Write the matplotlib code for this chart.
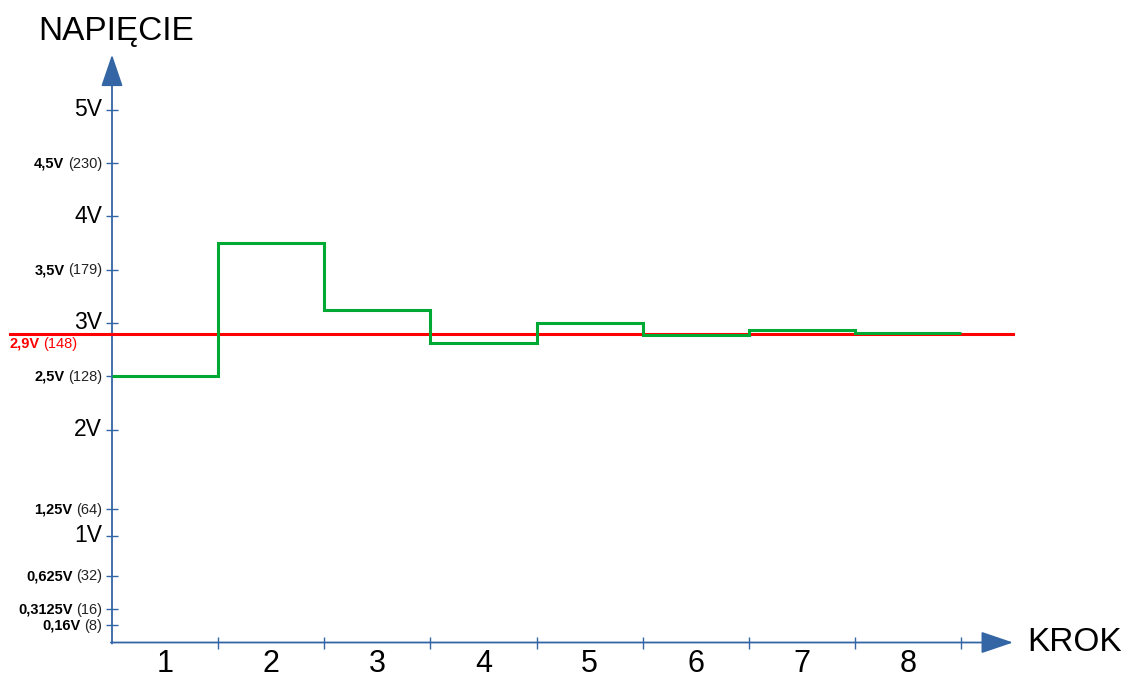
import matplotlib.pyplot as plt

plt.rcParams['font.family'] = ['Liberation Sans', 'DejaVu Sans']

# SAR steps (krok) and the DAC voltage tried at each step
steps = [1, 2, 3, 4, 5, 6, 7, 8]
voltages = [2.5, 3.75, 3.125, 2.8125, 3.0, 2.89, 2.93, 2.91]
vin = 2.9
vin_label = ('2,9V', '(148)')

major_ticks = [1, 2, 3, 4, 5]
major_labels = ['1V', '2V', '3V', '4V', '5V']
minor_ticks = [4.5, 3.5, 2.5, 1.25, 0.625, 0.3125, 0.16]
minor_bold = ['4,5V', '3,5V', '2,5V', '1,25V', '0,625V', '0,3125V', '0,16V']
minor_code = ['(230)', '(179)', '(128)', '(64)', '(32)', '(16)', '(8)']

blue = '#3465a4'
green = '#00a933'
red = '#ff0000'

fig = plt.figure(figsize=(11.27, 6.77), dpi=100)
ax = fig.add_axes([0, 0, 1, 1])
pxx = 106.125   # px per step
pxy = 106.5     # px per volt
ax.set_xlim(-112 / pxx, (1127 - 112) / pxx)
ax.set_ylim(-(677 - 642.5) / pxy, 642.5 / pxy)
ax.axis('off')
r = fig.canvas.get_renderer()

# axes with arrows
ax.annotate('', xy=(0, 5.52), xytext=(0, -0.01),
            arrowprops=dict(arrowstyle='-|>,head_length=2.0,head_width=0.68',
                            mutation_scale=10, color=blue, lw=1.3, shrinkA=0, shrinkB=0))
ax.annotate('', xy=(8.49, 0), xytext=(-0.01, 0),
            arrowprops=dict(arrowstyle='-|>,head_length=2.0,head_width=0.68',
                            mutation_scale=10, color=blue, lw=1.3, shrinkA=0, shrinkB=0))

# tick marks crossing the axes
allticks = major_ticks + minor_ticks
ax.plot([0] * len(allticks), allticks, ls='none', marker='_', ms=9, mew=1, color=blue)
ax.plot(steps, [0] * len(steps), ls='none', marker='|', ms=9, mew=1, color=blue)

# data
edges = [s - 1 for s in steps] + [max(steps)]
ax.plot([-0.96, 8.49], [vin, vin], color=red, lw=2.2, zorder=3)
ax.stairs(voltages, edges, baseline=None, color=green, lw=2.2, zorder=4)

# labels
off = -10 / pxx
fs = 10.5
base = -4.5 / pxy   # baseline shift so the text is centred on the tick
gap = 3.5 / pxx
for v, lab in zip(major_ticks, major_labels):
    ax.text(off, v, lab, ha='right', va='center', fontsize=16.5)
for v, b, c in zip(minor_ticks, minor_bold, minor_code):
    t = ax.text(off, v + base, c, ha='right', va='baseline', fontsize=fs, color='#222222')
    x0 = ax.transData.inverted().transform(t.get_window_extent(r).p0)[0]
    ax.text(x0 - gap, v + base, b, ha='right', va='baseline', fontsize=fs, fontweight='bold')

t = ax.text(-102 / pxx, vin - 0.09 + base, vin_label[0], ha='left', va='baseline',
            fontsize=fs, fontweight='bold', color=red)
x1 = ax.transData.inverted().transform(t.get_window_extent(r).p1)[0]
ax.text(x1 + gap, vin - 0.09 + base, vin_label[1], ha='left', va='baseline',
        fontsize=fs, color=red)

for s in steps:
    ax.text(s - 0.5, -0.2, str(s), ha='center', va='center', fontsize=22)

ax.text(-74 / pxx, 5.74, 'NAPIĘCIE', ha='left', va='center', fontsize=24)
ax.text(8.62, 0, 'KROK', ha='left', va='center', fontsize=24)

fig.savefig('out.png', dpi=100)
